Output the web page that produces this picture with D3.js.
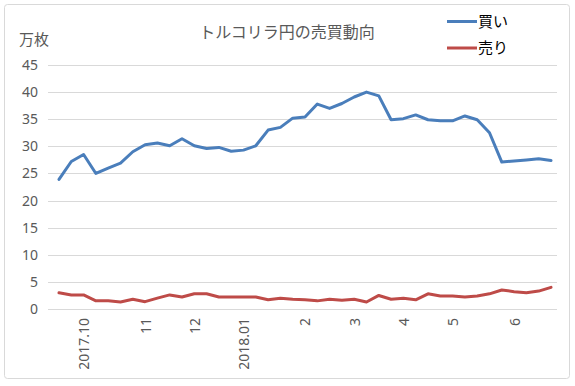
<!DOCTYPE html>
<html>
<head>
<meta charset="utf-8">
<script src="https://cdn.jsdelivr.net/npm/d3@7"></script>
<style>
  body { margin: 0; background: #ffffff; }
</style>
</head>
<body>
<script>
// Data (weekly, 2017.09 - 2018.06), unit: 万枚
const TITLE  = 'トルコリラ円の売買動向';
const UNIT   = '万枚';
const SERIES = ['買い', '売り'];

const BUY = [
  23.9, 27.2, 28.5, 25.0, 26.0, 26.9, 29.0, 30.3, 30.6, 30.1,
  31.4, 30.1, 29.6, 29.8, 29.1, 29.3, 30.1, 33.0, 33.5, 35.2,
  35.4, 37.8, 37.0, 37.9, 39.1, 40.0, 39.3, 34.9, 35.1, 35.8,
  34.9, 34.7, 34.7, 35.6, 34.9, 32.5, 27.1, 27.3, 27.5, 27.7,
  27.4
];
const SELL = [
  3.0, 2.6, 2.6, 1.5, 1.5, 1.3, 1.8, 1.35, 2.0, 2.6,
  2.2, 2.8, 2.8, 2.2, 2.2, 2.2, 2.2, 1.7, 2.0, 1.8,
  1.7, 1.5, 1.8, 1.6, 1.8, 1.3, 2.5, 1.8, 2.0, 1.7,
  2.8, 2.4, 2.4, 2.2, 2.4, 2.8, 3.5, 3.2, 3.0, 3.3,
  4.0
];
// category labels, one per week (blank = no label)
const WEEKS = [
  '', '', '2017.10', '', '', '', '', '11', '', '',
  '', '12', '', '', '', '2018.01', '', '', '', '',
  '2', '', '', '', '3', '', '', '', '4', '',
  '', '', '5', '', '', '', '', '6', '', '',
  ''
];
const Y_TICKS = [0, 5, 10, 15, 20, 25, 30, 35, 40, 45];

// Colors
const BLUE = '#4a7ebb';
const RED  = '#be4b48';
const GRID = '#d9d9d9';
const TXT  = '#595959';

const W = 575, H = 386;
const NUM_FONT = "'Noto Sans', 'Liberation Sans', sans-serif";
const JP_FONT  = "'Noto Sans CJK JP', sans-serif";

const svg = d3.select('body').append('svg')
  .attr('width', W)
  .attr('height', H);

svg.append('rect')
  .attr('x', 4.5).attr('y', 4.5)
  .attr('width', 565).attr('height', 374)
  .attr('rx', 3)
  .attr('fill', '#ffffff')
  .attr('stroke', GRID);

// Scales
const x = d3.scalePoint()
  .domain(WEEKS.map((d, i) => i))
  .range([59, 551]);

const y = d3.scaleLinear()
  .domain([0, 45])
  .range([309, 65]);

// Gridlines
svg.append('g')
  .selectAll('line')
  .data(Y_TICKS)
  .join('line')
  .attr('x1', 48).attr('x2', 557)
  .attr('y1', d => Math.round(y(d)) + 0.5)
  .attr('y2', d => Math.round(y(d)) + 0.5)
  .attr('stroke', GRID)
  .attr('stroke-width', 1);

// Y axis
const yAxis = g => {
  g
    .attr('transform', 'translate(38,0)')
    .call(d3.axisLeft(y).tickValues(Y_TICKS).tickSize(0).tickPadding(0))
    .call(g => g.select('.domain').remove())
    .call(g => g.selectAll('text')
      .attr('font-family', NUM_FONT)
      .attr('font-size', '14px')
      .attr('fill', TXT));
};
svg.append('g').call(yAxis);

// X axis (rotated labels)
const xAxis = g => {
  g
    .attr('transform', 'translate(0,312)')
    .call(d3.axisBottom(x).tickFormat(i => WEEKS[i]).tickSize(0).tickPadding(0))
    .call(g => g.select('.domain').remove())
    .call(g => g.selectAll('text')
      .attr('font-family', NUM_FONT)
      .attr('font-size', '14px')
      .attr('fill', TXT)
      .attr('text-anchor', 'end')
      .attr('dy', '0.35em')
      .attr('dx', '-6px')
      .attr('y', 0)
      .attr('transform', 'rotate(-90)'));
};
svg.append('g').call(xAxis);

// Lines
const line = d3.line()
  .x((d, i) => x(i))
  .y(d => y(d));

[[BUY, BLUE], [SELL, RED]].forEach(([vals, col]) => {
  svg.append('path')
    .datum(vals)
    .attr('d', line)
    .attr('fill', 'none')
    .attr('stroke', col)
    .attr('stroke-width', 3)
    .attr('stroke-linejoin', 'round')
    .attr('stroke-linecap', 'round');
});

// Title + unit
svg.append('text')
  .attr('x', 287)
  .attr('y', 38)
  .attr('text-anchor', 'middle')
  .attr('font-family', JP_FONT)
  .attr('font-size', '16px')
  .attr('fill', TXT)
  .text(TITLE);

svg.append('text')
  .attr('x', 19)
  .attr('y', 45)
  .attr('font-family', JP_FONT)
  .attr('font-size', '15px')
  .attr('fill', TXT)
  .text(UNIT);

// Legend
const legend = svg.append('g');
[[SERIES[0], BLUE, 21.5], [SERIES[1], RED, 48]].forEach(([name, col, ly]) => {
  legend.append('line')
    .attr('x1', 447).attr('x2', 477)
    .attr('y1', ly).attr('y2', ly)
    .attr('stroke', col)
    .attr('stroke-width', 3);
  legend.append('text')
    .attr('x', 478)
    .attr('y', ly)
    .attr('dy', '0.35em')
    .attr('font-family', JP_FONT)
    .attr('font-size', '15px')
    .attr('fill', '#000000')
    .text(name);
});
</script>
</body>
</html>
